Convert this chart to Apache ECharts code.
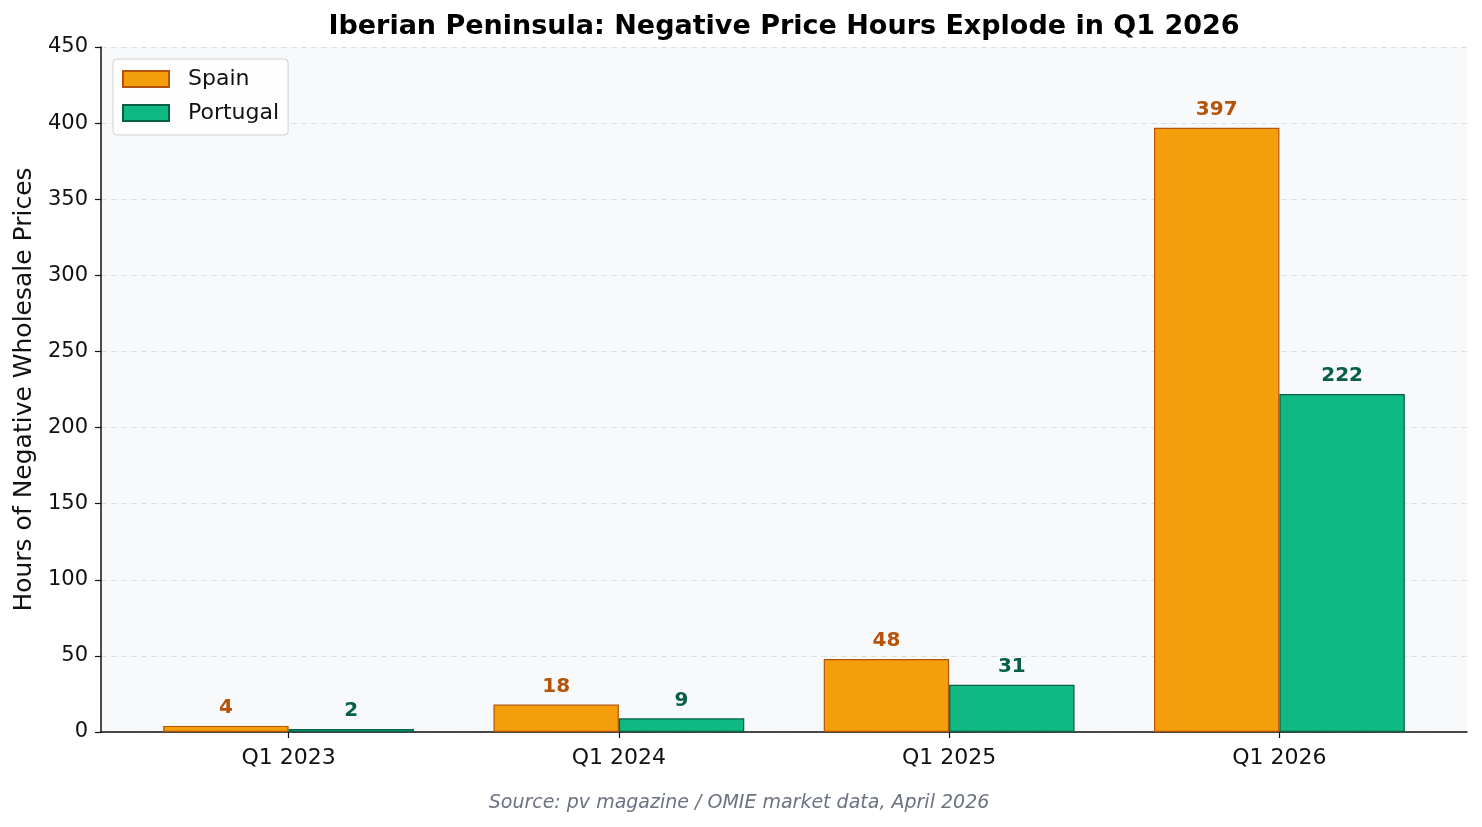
<!DOCTYPE html>
<html>
<head>
<meta charset="utf-8">
<title>Iberian negative price hours</title>
<script src="https://cdn.jsdelivr.net/npm/echarts@6/dist/echarts.min.js"></script>
<style>
  html, body { margin: 0; padding: 0; background: #fff; }
  #chart { width: 1482px; height: 827px; }
</style>
</head>
<body>
<div id="chart"></div>
<script>
// data
var quarters = ['Q1 2023', 'Q1 2024', 'Q1 2025', 'Q1 2026'];
var spain = [4, 18, 48, 397];
var portugal = [2, 9, 31, 222];
var yTicks = [0, 50, 100, 150, 200, 250, 300, 350, 400, 450];

var font = 'DejaVu Sans';
var chart = echarts.init(document.getElementById('chart'));

function pairs(vals) {
  return vals.map(function (v, i) { return [i, v]; });
}

var option = {
  animation: false,
  textStyle: { fontFamily: font },
  grid: {
    left: 101, right: 15, top: 47, bottom: 95,
    show: true, backgroundColor: '#f8f9fb', borderWidth: 0
  },
  graphic: [
    {
      type: 'text', x: 784, y: 27,
      style: {
        text: 'Iberian Peninsula: Negative Price Hours Explode in Q1 2026',
        font: 'bold 27px "DejaVu Sans"', fill: '#000',
        textAlign: 'center', textVerticalAlign: 'middle'
      }
    },
    {
      type: 'text', x: 739, y: 803,
      style: {
        text: 'Source: pv magazine / OMIE market data, April 2026',
        font: 'italic 19px "DejaVu Sans"', fill: '#6b7280',
        textAlign: 'center', textVerticalAlign: 'middle'
      }
    }
  ],
  legend: {
    orient: 'vertical',
    left: 113, top: 59,
    padding: [9, 9, 11, 9],
    itemGap: 12,
    itemWidth: 46, itemHeight: 16,
    icon: 'rect',
    backgroundColor: 'rgba(255,255,255,0.8)',
    borderColor: '#d0d0d0', borderWidth: 1, borderRadius: 4,
    textStyle: { fontSize: 22, color: '#111', padding: [0, 0, 0, 14] },
    data: ['Spain', 'Portugal']
  },
  xAxis: {
    type: 'value',
    min: -0.568, max: 3.568,
    splitLine: { show: false },
    axisLine: { show: true, onZero: false, lineStyle: { color: '#111', width: 1.5 } },
    axisTick: { show: true, customValues: [0, 1, 2, 3], length: 6, lineStyle: { color: '#111', width: 1.2 } },
    axisLabel: {
      customValues: [0, 1, 2, 3],
      fontSize: 22, color: '#111', margin: 15,
      formatter: function (v) { return quarters[Math.round(v)]; }
    }
  },
  yAxis: {
    type: 'value',
    min: yTicks[0], max: yTicks[yTicks.length - 1], interval: 50,
    name: 'Hours of Negative Wholesale Prices',
    nameLocation: 'middle', nameGap: 61,
    nameTextStyle: { fontSize: 25, color: '#111' },
    axisLine: { show: true, onZero: false, lineStyle: { color: '#111', width: 1.5 } },
    axisTick: { show: true, length: 6, lineStyle: { color: '#111', width: 1.2 } },
    axisLabel: { fontSize: 21, color: '#111', margin: 13, padding: [3, 0, 0, 0] },
    splitLine: { show: true, lineStyle: { color: '#dcdfe4', type: [6, 4], width: 1.2 } }
  },
  series: [
    {
      name: 'Spain', type: 'bar',
      data: pairs(spain),
      barWidth: 125.4, barGap: '0%',
      itemStyle: { color: '#f59e0b', borderColor: '#b45309', borderWidth: 1.2 },
      label: {
        show: true, position: 'top', distance: 8,
        fontSize: 20, fontWeight: 'bold', color: '#b45309',
        formatter: function (p) { return p.value[1]; }
      }
    },
    {
      name: 'Portugal', type: 'bar',
      data: pairs(portugal),
      barWidth: 125.4, barGap: '0%',
      itemStyle: { color: '#10b981', borderColor: '#065f46', borderWidth: 1.2 },
      label: {
        show: true, position: 'top', distance: 8,
        fontSize: 20, fontWeight: 'bold', color: '#065f46',
        formatter: function (p) { return p.value[1]; }
      }
    }
  ]
};

chart.setOption(option);
</script>
</body>
</html>
